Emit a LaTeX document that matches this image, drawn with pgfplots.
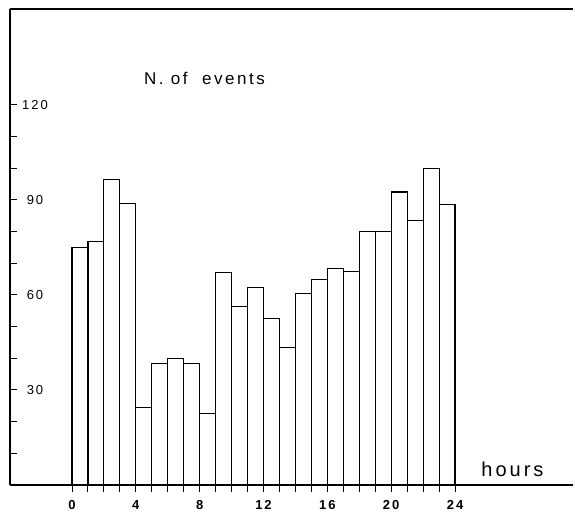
\documentclass[border=0pt]{standalone}
\usepackage{pgfplots}
\pgfplotsset{compat=1.18}
\usepackage{fontspec}
\setmainfont{Liberation Sans}
\newfontfamily\spaced[LetterSpace=15]{Liberation Sans}
\begin{document}
\begin{tikzpicture}[x=1pt,y=1pt]
\path[use as bounding box] (0,0) rectangle (575,511);
\begin{axis}[
  at={(10pt,26pt)}, anchor=south west,
  scale only axis, width=600pt, height=476pt,
  xmin=-3.885, xmax=33.71, ymin=0, ymax=150.3,
  axis x line*=bottom, axis y line*=left,
  axis line style={draw=none},
  clip=false,
  xtick={0,4,...,24},
  minor xtick={0,...,24},
  xtick align=outside,
  ytick={30,60,90,120},
  minor ytick={10,20,40,50,70,80,100,110},
  ytick align=inside,
  major tick length=7pt, minor tick length=7pt,
  every tick/.style={black, line width=1pt},
  /pgf/number format/assume math mode=true,
  xticklabel style={font=\spaced\fontsize{13}{15}\selectfont\bfseries, yshift=-5pt},
  yticklabel style={font=\spaced\fontsize{13}{15}\selectfont, anchor=center, xshift=25pt},
]
\addplot[ybar interval, draw=black, fill=white, line width=1.1pt] coordinates {
(0,75) (1,77) (2,96.5) (3,89) (4,24.5) (5,38.5) (6,40) (7,38.5) (8,22.5)
(9,67) (10,56.5) (11,62.5) (12,52.5) (13,43.5) (14,60.5) (15,65) (16,68.5)
(17,67.5) (18,80) (19,80) (20,92.5) (21,83.5) (22,100) (23,88.5) (24,88.5)
};
\draw[line width=1.1pt] (rel axis cs:0,0) -- (rel axis cs:0,1);
\draw[line width=1.1pt] (rel axis cs:0,1) -- (axis cs:31.39,150.3);
\draw[line width=1.1pt] (rel axis cs:0,0) -- (axis cs:31.39,0);
\node[font=\spaced\fontsize{17}{20}\selectfont] at (axis cs:8.3,128.5) {N.\ of\ \ events};
\node[font=\spaced\fontsize{20}{23}\selectfont] at (axis cs:27.6,4.8) {hours};
\end{axis}
\end{tikzpicture}
\end{document}
